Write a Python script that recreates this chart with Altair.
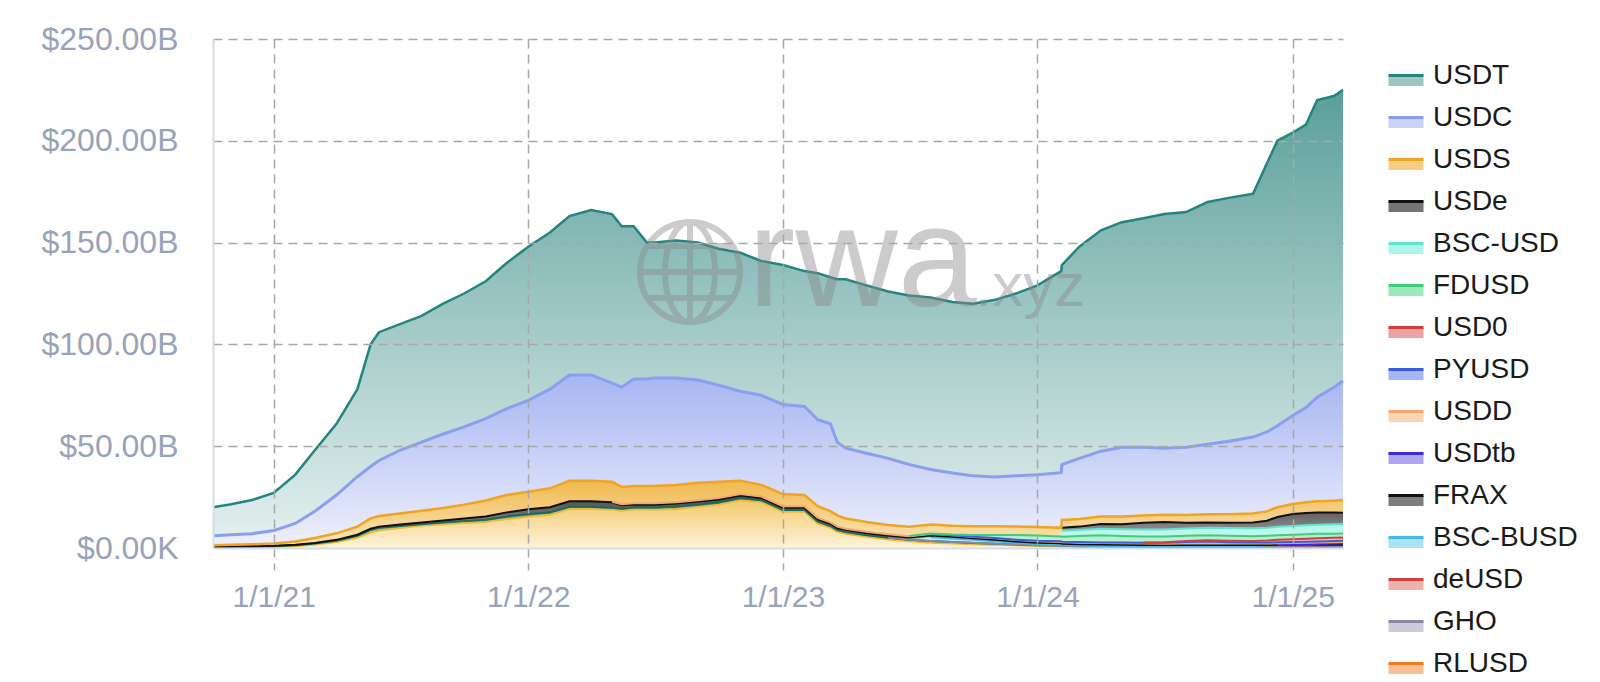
import altair as alt
import pandas as pd

# ---------------- data (values in $ billions) ----------------
DATES = [
    "2020-10-06", "2020-11-01", "2020-12-01", "2021-01-01", "2021-02-01", "2021-03-01",
    "2021-04-01", "2021-05-01", "2021-05-20", "2021-06-01", "2021-07-01", "2021-08-01",
    "2021-09-01", "2021-10-01", "2021-11-01", "2021-12-01", "2022-01-01", "2022-02-01",
    "2022-03-01", "2022-04-01", "2022-05-01", "2022-05-15", "2022-06-01", "2022-06-20",
    "2022-07-01", "2022-08-01", "2022-09-01", "2022-10-01", "2022-11-01", "2022-12-01",
    "2023-01-01", "2023-02-01", "2023-02-20", "2023-03-10", "2023-03-20", "2023-04-01",
    "2023-05-01", "2023-06-01", "2023-07-01", "2023-08-01", "2023-09-01", "2023-10-01",
    "2023-11-01", "2023-12-01", "2024-01-01", "2024-02-04", "2024-02-05", "2024-03-01",
    "2024-04-01", "2024-05-01", "2024-06-01", "2024-07-01", "2024-08-01", "2024-09-01",
    "2024-10-01", "2024-11-05", "2024-11-25", "2024-12-10", "2025-01-01", "2025-01-20",
    "2025-02-05", "2025-03-01", "2025-03-14",
]

USDT = [14, 15, 16.5, 18.5, 24, 30, 35, 43, 60, 63,
        62, 62, 64, 65.5, 67.5, 71.5, 75.5, 77, 78, 81,
        83, 79, 75, 67, 66.5, 67.5, 67.5, 67, 68, 66,
        68.5, 66.5, 72, 72, 80, 83, 82.5, 82, 83, 84.5,
        84, 84.5, 87, 89.5, 93, 99, 98, 104, 108.5, 110.5,
        112.5, 115, 115.5, 119, 119.5, 119.5, 132, 140, 139, 139,
        146, 143, 143]
USDC = [4.6, 4.9, 5.2, 6.3, 8.9, 13.1, 18.8, 24.5, 25.5, 27.3,
        31, 33.7, 36.3, 38.2, 40.2, 42.5, 44.9, 48.7, 52, 52,
        48.5, 49, 52.5, 52.5, 53, 52.5, 50.5, 47.5, 44, 44,
        44, 43.5, 42.5, 42.9, 36, 34.5, 33.7, 32.7, 30.6, 27,
        25.9, 24.7, 24.2, 24.9, 25.7, 27.1, 27.2, 29.7, 32.1, 34,
        33.5, 32.7, 33.3, 34.4, 35.9, 37.5, 39, 40, 43.4, 46.5,
        51.1, 55.7, 58.5]
USDS = [0.8, 0.9, 1.0, 1.2, 1.6, 2.4, 3.2, 4.0, 5.0, 5.2,
        5.5, 5.8, 6.2, 6.8, 7.8, 8.5, 8.6, 9.3, 10.0, 10.0,
        9.8, 8.5, 8.5, 8.5, 8.5, 8.5, 8.5, 8.0, 6.5, 5.7,
        6.0, 5.5, 5.7, 5.5, 5.5, 5.0, 4.8, 4.6, 4.5, 4.4,
        4.3, 4.3, 4.3, 4.2, 4.2, 4.2, 3.8, 3.8, 3.7, 3.8,
        3.6, 3.6, 3.8, 4.0, 4.2, 4.5, 4.6, 4.8, 5.0, 5.3,
        5.5, 5.8, 6.2]
USDE = [0] * 46 + [1.5, 1.6, 2.3, 2.5, 3.3, 3.6, 2.8, 2.6, 2.6, 2.8, 3.4, 4.8, 5.8, 6.0, 6.0, 5.8, 5.6]
BSC_USD = [0] * 46 + [3.0, 3.0, 3.2, 3.3, 3.4, 3.5, 3.6, 3.7, 3.8, 3.9, 4.0, 4.2, 4.3, 4.4, 4.5, 4.6, 4.6]
FDUSD = [0] * 38 + [0.1, 0.3, 0.4, 0.9, 1.5, 2.3, 2.5, 2.4, 2.4, 3.0, 3.5, 3.2, 3.0, 2.8, 2.6, 2.5,
                    2.4, 2.3, 2.3, 2.2, 2.2, 2.2, 2.1, 2.0, 2.0]
USD0 = [0] * 50 + [0.05, 0.2, 0.4, 0.6, 0.7, 0.8, 1.0, 1.2, 1.4, 1.5, 1.6, 1.6, 1.5]
PYUSD = [0] * 39 + [0.02, 0.04, 0.1, 0.15, 0.2, 0.3, 0.3, 0.3, 0.3, 0.3, 0.4, 0.4, 0.5, 0.8, 1.0,
                    0.7, 0.5, 0.5, 0.5, 0.5, 0.5, 0.55, 0.6, 0.65]
USDD = [0] * 20 + [0.2, 0.5, 0.6] + [0.7] * 40
USDTB = [0] * 57 + [0.05, 0.1, 0.2, 0.4, 0.6, 0.7]
FRAX = [0.1, 0.1, 0.1, 0.15, 0.2, 0.3, 0.4, 0.5, 0.6, 0.6,
        0.7, 0.8, 1.0, 1.3, 1.6, 2.0, 2.3, 2.5, 2.8, 2.8,
        2.7, 1.7, 1.5, 1.4, 1.4, 1.4, 1.4, 1.3, 1.2, 1.1,
        1.1, 1.1, 1.1, 1.1, 1.0, 1.0, 1.0, 1.0, 1.0, 0.9,
        0.8, 0.7, 0.7, 0.65, 0.65, 0.65, 0.65, 0.65, 0.65, 0.65,
        0.65, 0.6, 0.6, 0.55, 0.5, 0.45, 0.4, 0.4, 0.35, 0.35,
        0.3, 0.3, 0.3]
BSC_BUSD = [0] * 39 + [1.8, 1.8, 1.5, 1.2, 0.8, 0.5, 0.4, 0.3, 0.3, 0.25, 0.2] + [0.2] * 13
DEUSD = [0] * 51 + [0.05, 0.1, 0.15, 0.2, 0.25, 0.3, 0.35, 0.4, 0.4, 0.35, 0.3, 0.3]
GHO = [0] * 37 + [0.02, 0.02, 0.02, 0.02, 0.03, 0.03, 0.03, 0.03, 0.04, 0.04, 0.05, 0.06, 0.07,
                  0.08, 0.09, 0.1, 0.11, 0.12, 0.12, 0.14, 0.16, 0.2, 0.2, 0.2, 0.2, 0.2]
RLUSD = [0] * 57 + [0.02, 0.06, 0.08, 0.1, 0.12, 0.13]
BUSD = [0.2, 0.25, 0.35, 0.5, 0.9, 1.7, 3.0, 5.0, 7.7, 8.6,
        9.8, 11.0, 11.7, 12.3, 12.8, 14.2, 15.3, 16.3, 19.1, 19.2,
        18.8, 18.3, 18.9, 18.9, 18.8, 19.2, 20.2, 21.3, 23.5, 22.5,
        17.8, 17.8, 12.0, 10.0, 8.0, 7.0, 5.5, 4.2, 3.3, 2.6,
        2.2, 1.9, 1.6, 1.3, 1.0, 0.8, 0.7, 0.5, 0.4, 0.3,
        0.2, 0.1, 0.08, 0.06, 0.05, 0.05, 0.05, 0.05, 0.04, 0.04,
        0.04, 0.04, 0.04]
TUSD = [0.3, 0.35, 0.4, 0.4, 0.45, 0.5, 0.6, 1.0, 1.2, 1.3,
        1.0, 0.7, 0.8, 0.9, 1.1, 1.3, 1.4, 1.2, 1.1, 1.0,
        1.0, 1.0, 1.0, 1.0, 1.1, 1.2, 1.2, 1.2, 1.1, 1.0,
        0.9, 0.9, 1.0, 0.8, 0.8, 0.8, 0.8, 0.8, 0.8, 0.8,
        0.7, 0.6, 0.5, 0.4, 0.4, 0.4, 0.4, 0.4, 0.4, 0.4] + [0.4] * 13

VALUES = {
    "USDT": USDT, "USDC": USDC, "USDS": USDS, "USDe": USDE, "BSC-USD": BSC_USD,
    "FDUSD": FDUSD, "USD0": USD0, "PYUSD": PYUSD, "USDD": USDD, "USDtb": USDTB,
    "FRAX": FRAX, "BSC-BUSD": BSC_BUSD, "deUSD": DEUSD, "GHO": GHO, "RLUSD": RLUSD,
    "TUSD": TUSD, "BUSD": BUSD,
}

# legend entries visible in the picture (top of the stack first)
LEGEND_ORDER = ["USDT", "USDC", "USDS", "USDe", "BSC-USD", "FDUSD", "USD0", "PYUSD", "USDD",
                "USDtb", "FRAX", "BSC-BUSD", "deUSD", "GHO", "RLUSD"]
STACK_ORDER = ["BUSD", "TUSD"] + list(reversed(LEGEND_ORDER))  # bottom of the stack first

X_TICKS = [2021, 2022, 2023, 2024, 2025]
Y_TICKS = [0, 50, 100, 150, 200, 250]

# ---------------- styles ----------------
LINE_COLORS = {
    "USDT": "#23857f", "USDC": "#8b9ef0", "USDS": "#f0a422", "USDe": "#111111",
    "BSC-USD": "#5ee6cf", "FDUSD": "#3fcd79", "USD0": "#d43d3d", "PYUSD": "#3a5de0",
    "USDD": "#f3a870", "USDtb": "#3b2ddc", "FRAX": "#111111", "BSC-BUSD": "#41bbe6",
    "deUSD": "#d43f3f", "GHO": "#8a86a3", "RLUSD": "#f27a1e", "TUSD": "#1b6a5c",
    "BUSD": "#f0b93a",
}
FILL_TOP = {
    "USDT": "#5a9f9a", "USDC": "#a7b5f2", "USDS": "#f1b94f", "USDe": "#333333",
    "BSC-USD": "#8ef0de", "FDUSD": "#74df9f", "USD0": "#e27b7b", "PYUSD": "#7d95ec",
    "USDD": "#f6c092", "USDtb": "#857cec", "FRAX": "#4a4a4a", "BSC-BUSD": "#86d5f1",
    "deUSD": "#e88d8d", "GHO": "#b3b0c8", "RLUSD": "#f6a465", "TUSD": "#2f7f70",
    "BUSD": "#f2ca6c",
}
FILL_BOTTOM = {
    "USDT": "#e2efee", "USDC": "#eef0fc", "USDS": "#fbe6bd", "USDe": "#b5b5b5",
    "BSC-USD": "#d0f9f1", "FDUSD": "#c6f2d8", "USD0": "#f4cccc", "PYUSD": "#cfd8f8",
    "USDD": "#fde9d9", "USDtb": "#d3cff8", "FRAX": "#b0b0b0", "BSC-BUSD": "#d3effa",
    "deUSD": "#f7d4d4", "GHO": "#e5e4ee", "RLUSD": "#fcdcc3", "TUSD": "#8cc2b7",
    "BUSD": "#fdf3da",
}
LINE_WIDTH = {"USDT": 2.5, "USDC": 3, "USDS": 2.5}


def mix(c1, c2):
    a = [int(c1[i:i + 2], 16) for i in (1, 3, 5)]
    b = [int(c2[i:i + 2], 16) for i in (1, 3, 5)]
    return "#" + "".join(f"{(p + q) // 2:02x}" for p, q in zip(a, b))


LEGEND_FILL = {s: mix(FILL_TOP[s], FILL_BOTTOM[s]) for s in LEGEND_ORDER}

AXIS_LABEL = "#98a3b9"
GRID = "#a8a8a8"
FONT = "Liberation Sans"

rows = []
for k, name in enumerate(STACK_ORDER):
    for d, v in zip(DATES, VALUES[name]):
        rows.append({"date": d, "series": name, "order": k, "value": v})
df = pd.DataFrame(rows)

X = alt.X(
    "date:T",
    scale=alt.Scale(type="utc", nice=False,
                    domain=[alt.DateTime(year=2020, month=10, date=6, utc=True),
                            alt.DateTime(year=2025, month=3, date=14, utc=True)]),
    axis=alt.Axis(
        values=[alt.DateTime(year=y, month=1, date=1, utc=True) for y in X_TICKS],
        labelExpr="utcFormat(datum.value, '%-m/%-d/%y')",
        title=None, grid=True, gridColor=GRID, gridDash=[9, 6], gridWidth=1.5,
        ticks=True, tickColor=GRID, tickDash=[9, 6], tickSize=22, tickWidth=1.5,
        domain=True, domainColor="#d6ddea", domainWidth=2,
        labelColor=AXIS_LABEL, labelFont=FONT, labelFontSize=30, labelPadding=12,
        zindex=1,
    ),
)
Y = alt.Y(
    "y1:Q", stack=None,
    scale=alt.Scale(domain=[0, 250], nice=False),
    axis=alt.Axis(
        values=Y_TICKS,
        labelExpr="datum.value === 0 ? '$0.00K' : '$' + format(datum.value, '.2f') + 'B'",
        title=None, grid=True, gridColor=GRID, gridDash=[9, 6], gridWidth=1.5,
        gridOpacity={"condition": {"test": "datum.value === 0", "value": 0}, "value": 1},
        ticks=False, domain=True, domainColor="#d6ddea", domainWidth=2,
        labelColor=AXIS_LABEL, labelFont=FONT, labelFontSize=32, labelPadding=35,
        labelBaseline="middle", zindex=1,
    ),
)
Y2 = alt.Y2("y0:Q")

base = alt.Chart(df).transform_stack(
    stack="value", groupby=["date"], as_=["y0", "y1"],
    sort=[alt.SortField("order", order="ascending")],
)

areas, lines = [], []
for name in STACK_ORDER:
    grad = alt.Gradient(
        gradient="linear", x1=0, x2=0, y1=0, y2=1,
        stops=[alt.GradientStop(color=FILL_TOP[name], offset=0),
               alt.GradientStop(color=FILL_BOTTOM[name], offset=1)],
    )
    areas.append(
        base.transform_filter(alt.datum.series == name)
        .mark_area(color=grad, interpolate="linear")
        .encode(x=X, y=Y, y2=Y2)
    )
    lines.append(
        base.transform_filter((alt.datum.series == name) & (alt.datum.value > 0))
        .mark_line(color=LINE_COLORS[name], strokeWidth=LINE_WIDTH.get(name, 2))
        .encode(x=X, y=Y)
    )

# legend symbol: a band whose top edge alone is stroked (dash covers only the top side)
RECT_SYMBOL = "M-1,0L1,0L1,0.6L-1,0.6Z"
LEG = alt.Legend(
    orient="none", legendX=1174, legendY=17.5, title=None, padding=0,
    symbolType=RECT_SYMBOL, symbolSize=1225, symbolStrokeWidth=3,
    symbolDash=[35, 400], symbolOpacity=1,
    labelFont=FONT, labelFontSize=28, labelColor="#1a1a1a", labelOffset=8,
    rowPadding=6, labelLimit=400,
)
legend_layer = base.transform_filter("false").mark_area(opacity=1).encode(
    x=X, y=Y,
    fill=alt.Fill("series:N",
                  scale=alt.Scale(domain=LEGEND_ORDER, range=[LEGEND_FILL[s] for s in LEGEND_ORDER]),
                  legend=LEG),
    stroke=alt.Stroke("series:N",
                      scale=alt.Scale(domain=LEGEND_ORDER, range=[LINE_COLORS[s] for s in LEGEND_ORDER]),
                      legend=LEG),
)

# ---------------- watermark ----------------
GLOBE = ("M-1,0A1,1,0,1,1,1,0A1,1,0,1,1,-1,0Z"
         "M0,-1L0,1M-1,0L1,0M-0.85,-0.52L0.85,-0.52M-0.85,0.52L0.85,0.52"
         "M0,-1A0.5,1,0,1,0,0,1A0.5,1,0,1,0,0,-1")
wm = pd.DataFrame({"mark": ["rwa.xyz"]})
globe = alt.Chart(wm).mark_point(
    shape=GLOBE, size=10000, filled=False, stroke="#888888", strokeWidth=6, opacity=0.42
).encode(x=alt.value(477), y=alt.value(233))
wm_rwa = alt.Chart(wm).mark_text(
    text="rwa", font=FONT, fontSize=142, color="#888888", opacity=0.42,
    align="left", baseline="alphabetic"
).encode(x=alt.value(535), y=alt.value(267))
wm_xyz = alt.Chart(wm).mark_text(
    text=".xyz", font=FONT, fontSize=62, color="#888888", opacity=0.42,
    align="left", baseline="alphabetic"
).encode(x=alt.value(762), y=alt.value(267))

chart = alt.layer(
    *areas, *lines, legend_layer, globe, wm_rwa, wm_xyz
).properties(
    width=1130, height=509,
    padding={"left": 205, "top": 31, "right": 240, "bottom": 134},
    autosize=alt.AutoSizeParams(type="none"),
).configure_view(stroke="transparent")

chart.save("out.html", embed_options={"renderer": "svg", "actions": False})
